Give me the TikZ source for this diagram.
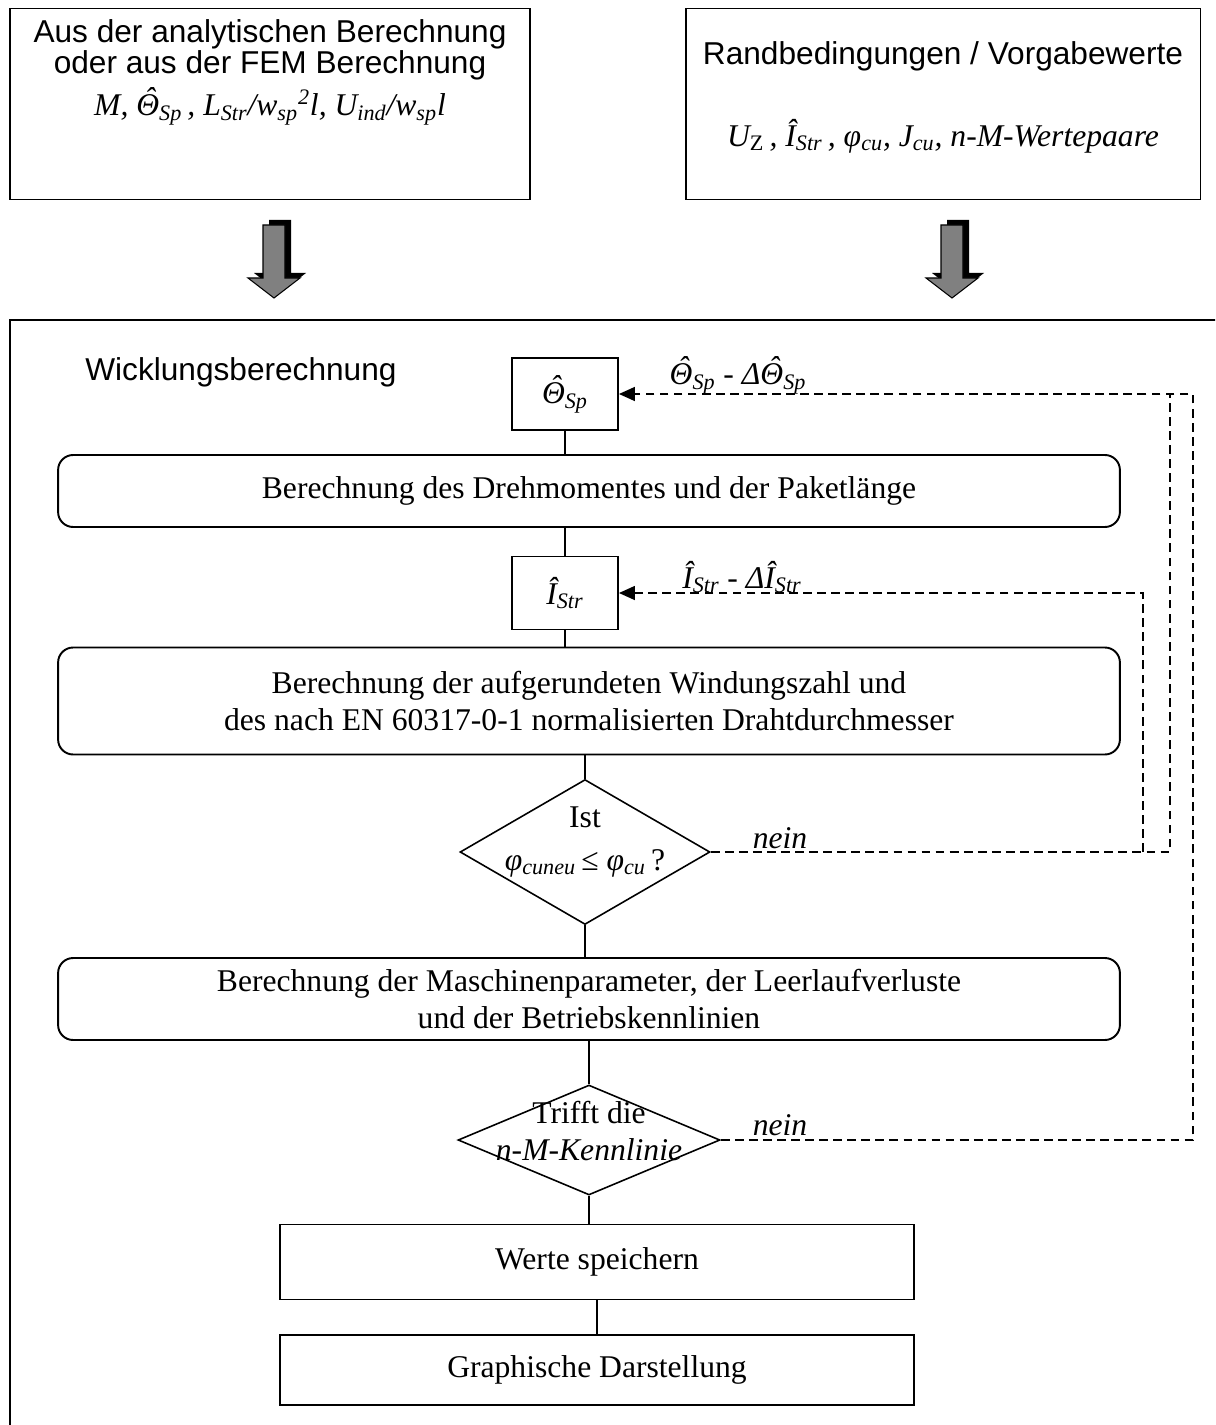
\documentclass[tikz,border=0pt]{standalone}
\usepackage{fontspec}
\setmainfont{Liberation Serif}
\setsansfont{Liberation Sans}
\usetikzlibrary{shapes,arrows.meta}

% Dach ueber einem Buchstaben (fuer Amplitudenwerte)
\newcommand{\dach}[1]{{\setbox0\hbox{#1}\hbox to \wd0{\hss\kern0.12em\raisebox{0.2em}{ˆ}\hss}\kern-\wd0\box0}}
\newcommand{\ind}[1]{\textsubscript{#1}}

\tikzstyle{box}=[rectangle, draw=black, line width=1.1pt, inner sep=0pt, text centered,
        font=\fontsize{18}{21}\selectfont]
\tikzstyle{roundbox}=[box, rounded corners=0.3cm, minimum width=21.24cm]
\tikzstyle{decision}=[diamond, draw=black, line width=0.9pt, inner sep=0pt]
\tikzstyle{txt}=[inner sep=0pt, align=center, font=\fontsize{18}{21}\selectfont]
\tikzstyle{stxt}=[txt, font=\fontsize{18}{16.5}\selectfont\sffamily]
\tikzstyle{link}=[line width=0.7pt]
\tikzstyle{feedback}=[line width=0.9pt, dash pattern=on 5pt off 3pt]
\tikzstyle{back}=[feedback, -{Triangle[length=0.32cm, width=0.28cm]}]
\tikzstyle{bigarrow}=[fill=black!50, draw=black, line width=0.6pt]

\def\pfeilform{(-11,0) -- (11,0) -- (11,53) -- (26,53) -- (0,73) -- (-26,53) -- (-11,53) -- cycle}

\begin{document}
\begin{tikzpicture}[x=0.02cm, y=-0.02cm]
	\useasboundingbox (0,0) rectangle (1215,1425);
	\clip (0,0) rectangle (1215,1425);

	% Eingangsgroessen
	\node (Analytik) [box, minimum width=10.4cm, minimum height=3.82cm] at (270,104) {};
	\node (AnalytikText) [stxt] at (270,50)
        {Aus der analytischen Berechnung\\oder aus der FEM Berechnung};
	\node (AnalytikWerte) [txt] at (270,106)
        {\itshape M, \dach{Θ}\ind{Sp}\,, L\ind{Str}/w\ind{sp}\textsuperscript{2}l, U\ind{ind}/w\ind{sp}l};

	\node (Vorgaben) [box, minimum width=10.3cm, minimum height=3.82cm] at (943,104) {};
	\node (VorgabenText) [stxt] at (943,56) {Randbedingungen / Vorgabewerte};
	\node (VorgabenWerte) [txt] at (943,136)
        {\itshape U\ind{\upshape Z}\,, Î\ind{Str}\,, φ\ind{cu}, J\ind{cu}, n-M-Wertepaare};

	% Uebergabepfeile
	\begin{scope}[shift={(274,225)}]
		\fill[black, shift={(6,-5)}] \pfeilform;
		\filldraw[bigarrow] \pfeilform;
	\end{scope}
	\begin{scope}[shift={(952,225)}]
		\fill[black, shift={(6,-5)}] \pfeilform;
		\filldraw[bigarrow] \pfeilform;
	\end{scope}

	% Rahmen Wicklungsberechnung
	\draw[line width=1.1pt] (10,1460) -- (10,320) -- (1250,320);
	\node (Wicklung) [stxt, anchor=west] at (85,372) {Wicklungsberechnung};

	\node (ThetaSp) [box, minimum width=2.12cm, minimum height=1.44cm] at (565,394)
        {\itshape\dach{Θ}\ind{Sp}};
	\node (Drehmoment) [roundbox, minimum height=1.44cm] at (589,491)
        {Berechnung des Drehmomentes und der Paketlänge};
	\node (IStr) [box, minimum width=2.12cm, minimum height=1.46cm] at (565,593)
        {\itshape Î\ind{Str}};
	\node (Windung) [roundbox, minimum height=2.14cm, align=center] at (589,701)
        {Berechnung der aufgerundeten Windungszahl und\\
         des nach EN 60317-0-1 normalisierten Drahtdurchmesser};
	\node (Fuellfaktor) [decision, minimum width=5cm, minimum height=2.9cm] at (585,852) {};
	\node (FuellfaktorText) [txt] at (585,842)
        {Ist\\[3pt] {\itshape φ\ind{cuneu}}\,≤ {\itshape φ\ind{cu}}\,?};
	\node (Parameter) [roundbox, minimum height=1.64cm, align=center] at (589,999)
        {Berechnung der Maschinenparameter, der Leerlaufverluste\\
         und der Betriebskennlinien};
	\node (Kennlinie) [decision, minimum width=5.24cm, minimum height=2.2cm] at (589,1140) {};
	\node (KennlinieText) [txt] at (589,1131)
        {Trifft die\\ \itshape n-M-Kennlinie};
	\node (Speichern) [box, minimum width=12.7cm, minimum height=1.5cm] at (597,1262)
        {Werte speichern};
	\node (Darstellung) [box, minimum width=12.7cm, minimum height=1.4cm] at (597,1370)
        {Graphische Darstellung};

	% Verbindungen
	\draw[link] (ThetaSp.south) -- (ThetaSp.south |- Drehmoment.north);
	\draw[link] (Drehmoment.south -| IStr.north) -- (IStr.north);
	\draw[link] (IStr.south) -- (IStr.south |- Windung.north);
	\draw[link] (Windung.south -| Fuellfaktor.north) -- (Fuellfaktor.north);
	\draw[link] (Fuellfaktor.south) -- (Fuellfaktor.south |- Parameter.north);
	\draw[link] (Parameter.south -| Kennlinie.north) -- (Kennlinie.north);
	\draw[link] (Kennlinie.south) -- (Kennlinie.south |- Speichern.north);
	\draw[link] (Speichern.south) -- (Darstellung.north);

	% Rueckfuehrungen
	\coordinate (RueckInnen) at (1143,0);
	\coordinate (RueckMitte) at (1170,0);
	\coordinate (RueckAussen) at (1193,0);

	\draw[back] (Kennlinie.east) -| (ThetaSp.east -| RueckAussen) -- (ThetaSp.east);
	\draw[feedback] (Fuellfaktor.east) -| (ThetaSp.east -| RueckMitte);
	\draw[back] (Fuellfaktor.east -| RueckInnen) -- (IStr.east -| RueckInnen) -- (IStr.east);

	\node (NeinFuell) [txt] at (780,838) {\itshape nein};
	\node (NeinKenn) [txt] at (780,1125) {\itshape nein};
	\node (ThetaKorr) [txt] at (738,375)
        {\itshape\dach{Θ}\ind{Sp} \upshape- \itshape Δ\dach{Θ}\ind{Sp}};
	\node (IStrKorr) [txt] at (742,577)
        {\itshape Î\ind{Str} \upshape- \itshape ΔÎ\ind{Str}};
\end{tikzpicture}
\end{document}
